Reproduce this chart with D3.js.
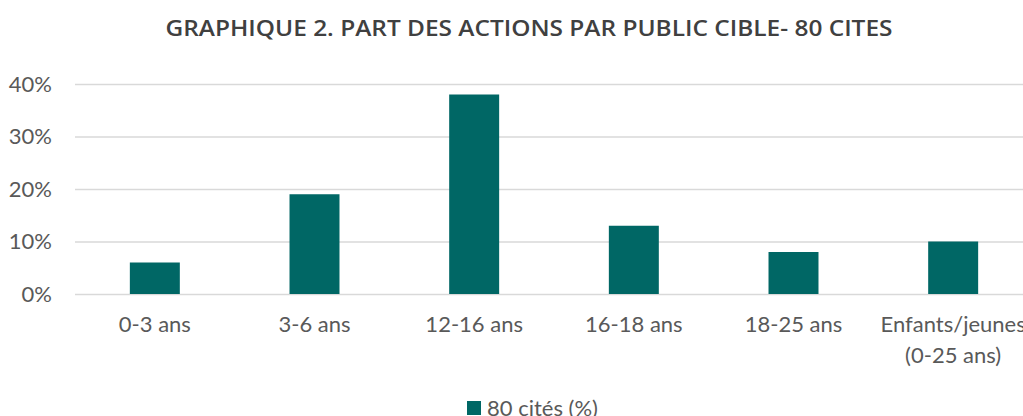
<!DOCTYPE html>
<html>
<head>
<meta charset="utf-8">
<script src="https://cdn.jsdelivr.net/npm/d3@7"></script>
<style>
  body { margin: 0; background: #fff; }
  text { font-family: Lato, "Open Sans", sans-serif; fill: #595959; }
</style>
</head>
<body>
<div id="chart"></div>
<script>
// data
var categories = ["0-3 ans", "3-6 ans", "12-16 ans", "16-18 ans", "18-25 ans", "Enfants/jeunes\n(0-25 ans)"];
var values = [0.06, 0.19, 0.38, 0.13, 0.08, 0.10];
var yTicks = [0, 0.1, 0.2, 0.3, 0.4];
var seriesName = "80 cités (%)";
var title = "GRAPHIQUE 2. PART DES ACTIONS PAR PUBLIC CIBLE- 80 CITES";

var svgWidth = 1023;
var svgHeight = 416;

var svg = d3.select("#chart")
    .append("svg")
    .attr("width", svgWidth)
    .attr("height", svgHeight);

// scales (plot runs past the right edge, like the original crop)
var xScale = d3.scaleBand()
    .domain(categories)
    .range([75, 1033])
    .paddingInner(0.687)
    .paddingOuter(0.3435);

var yScale = d3.scaleLinear()
    .domain([0, 0.4])
    .range([294, 84]);

// title
svg.append("text")
    .attr("x", 529)
    .attr("y", 36)
    .attr("text-anchor", "middle")
    .attr("textLength", 727)
    .attr("lengthAdjust", "spacingAndGlyphs")
    .style("font-family", "'Open Sans', sans-serif")
    .style("font-weight", 600)
    .style("font-size", "21px")
    .style("fill", "#404040")
    .text(title);

// gridlines + y labels
var leftAxis = d3.axisLeft(yScale)
    .tickValues(yTicks)
    .tickFormat(d3.format(".0%"))
    .tickSize(-(1023 - 75))
    .tickPadding(23);

var yAxisG = svg.append("g")
    .attr("transform", "translate(75,0)")
    .call(leftAxis);

yAxisG.select(".domain").remove();
yAxisG.selectAll(".tick line")
    .attr("stroke", "#d9d9d9")
    .attr("stroke-width", 1.5);
yAxisG.selectAll(".tick text")
    .attr("fill", "#595959")
    .style("font-size", "22px");

// bars
svg.selectAll(".bar")
    .data(values)
    .enter()
    .append("rect")
    .attr("class", "bar")
    .attr("x", (d, i) => xScale(categories[i]))
    .attr("width", xScale.bandwidth())
    .attr("y", d => yScale(d))
    .attr("height", d => yScale(0) - yScale(d))
    .attr("fill", "#006765");

// x labels (multi-line where needed)
var xLabels = svg.selectAll(".xlabel")
    .data(categories)
    .enter()
    .append("text")
    .attr("class", "xlabel")
    .attr("text-anchor", "middle")
    .style("font-size", "22px")
    .attr("transform", d => `translate(${xScale(d) + xScale.bandwidth() / 2}, 332)`);

xLabels.selectAll("tspan")
    .data(d => d.split("\n"))
    .enter()
    .append("tspan")
    .attr("x", 0)
    .attr("dy", (d, i) => i === 0 ? 0 : 31)
    .text(d => d);

// legend
svg.append("rect")
    .attr("x", 467)
    .attr("y", 401)
    .attr("width", 14)
    .attr("height", 14)
    .attr("fill", "#006765");

svg.append("text")
    .attr("x", 487)
    .attr("y", 416)
    .style("font-size", "22px")
    .text(seriesName);
</script>
</body>
</html>
